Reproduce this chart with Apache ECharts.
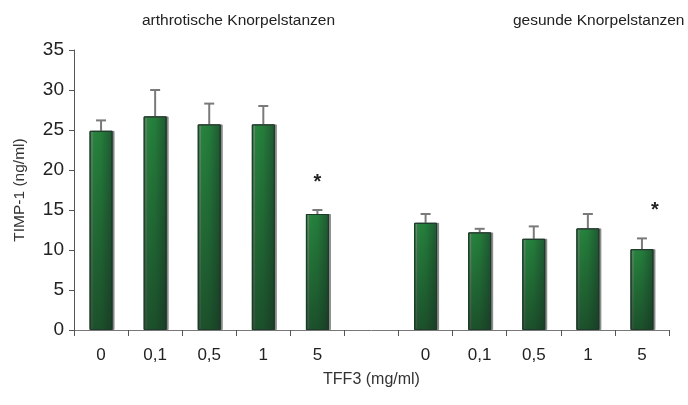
<!DOCTYPE html>
<html>
<head>
<meta charset="utf-8">
<script src="https://cdn.jsdelivr.net/npm/echarts@6/dist/echarts.min.js"></script>
<style>
  html, body { margin: 0; padding: 0; background: #fff; }
  #chart { width: 688px; height: 405px; }
</style>
</head>
<body>
<div id="chart"></div>
<script>
// TFF3 concentrations; the empty slot separates the two tissue groups
const categories = ['0', '0,1', '0,5', '1', '5', '', '0', '0,1', '0,5', '1', '5'];

// TIMP-1 means (ng/ml) and standard deviations
const arthroticMean = [24.9, 26.7, 25.7, 25.7, 14.5];
const arthroticSD   = [1.3, 3.3, 2.6, 2.3, 0.5];
const healthyMean   = [13.4, 12.2, 11.4, 12.7, 10.1];
const healthySD     = [1.1, 0.45, 1.55, 1.8, 1.35];

// groups flagged as significant
const significant = [4, 10];

const groupTitles = ['arthrotische Knorpelstanzen', 'gesunde Knorpelstanzen'];
const yTicks = [0, 5, 10, 15, 20, 25, 30, 35];

const means = [...arthroticMean, null, ...healthyMean];
const sds = [...arthroticSD, null, ...healthySD];

const barData = means.map(v => (v === null ? '-' : v));
const errData = means
  .map((v, i) => (v === null ? null : [i, v, v + sds[i]]))
  .filter(Boolean);
const starData = significant.map(i => [i, means[i] + sds[i]]);

const font = 'Liberation Sans, Arial, Helvetica, sans-serif';

const chart = echarts.init(document.getElementById('chart'), null, { renderer: 'canvas' });

chart.setOption({
  animation: false,
  backgroundColor: '#ffffff',
  title: [
    { text: groupTitles[0], left: 137, top: 8,
      textStyle: { fontFamily: font, fontSize: 15.5, fontWeight: 'normal', color: '#222' } },
    { text: groupTitles[1], left: 508, top: 8,
      textStyle: { fontFamily: font, fontSize: 15.5, fontWeight: 'normal', color: '#222' } }
  ],
  grid: { left: 74, right: 19, top: 50, bottom: 75, containLabel: false },
  xAxis: {
    type: 'category',
    data: categories,
    name: 'TFF3 (mg/ml)',
    nameLocation: 'middle',
    nameGap: 42,
    nameTextStyle: { fontFamily: font, fontSize: 16, color: '#333' },
    axisLine: { lineStyle: { color: '#777', width: 1 } },
    axisTick: { show: true, length: 6, lineStyle: { color: '#555' } },
    axisLabel: { fontFamily: font, fontSize: 17, color: '#222', margin: 17 }
  },
  yAxis: {
    type: 'value',
    min: yTicks[0],
    max: yTicks[yTicks.length - 1],
    interval: 5,
    name: 'TIMP-1 (ng/ml)',
    nameLocation: 'middle',
    nameGap: 46,
    nameTextStyle: { fontFamily: font, fontSize: 15.5, color: '#333' },
    splitLine: { show: false },
    axisLine: { show: true, lineStyle: { color: '#555', width: 1 } },
    axisTick: { show: true, length: 5, lineStyle: { color: '#555' } },
    axisLabel: { fontFamily: font, fontSize: 19, color: '#222', margin: 10 }
  },
  series: [
    {
      type: 'bar',
      data: barData,
      barWidth: 23,
      itemStyle: {
        color: new echarts.graphic.LinearGradient(0, 0, 1, 0, [
          { offset: 0, color: '#28893f' },
          { offset: 0.5, color: '#247d3b' },
          { offset: 1, color: '#1f5832' }
        ]),
        borderColor: '#1d3b28',
        borderWidth: 1,
        shadowColor: 'rgba(130,130,130,0.9)',
        shadowOffsetX: 2,
        shadowOffsetY: 0,
        shadowBlur: 0
      },
      z: 2
    },
    {
      // darkening towards the base of each bar
      type: 'bar',
      data: barData,
      barWidth: 23,
      barGap: '-100%',
      silent: true,
      itemStyle: {
        color: new echarts.graphic.LinearGradient(0, 0, 0, 1, [
          { offset: 0, color: 'rgba(20,40,28,0)' },
          { offset: 1, color: 'rgba(20,40,28,0.55)' }
        ]),
        borderColor: '#1d3b28',
        borderWidth: 1
      },
      z: 2
    },
    {
      type: 'custom',
      data: errData,
      z: 1,
      renderItem: function (params, api) {
        const x = api.value(0);
        const base = api.coord([x, api.value(1)]);
        const top = api.coord([x, api.value(2)]);
        const cap = 5;
        const style = { stroke: '#7a7a7a', lineWidth: 2 };
        return {
          type: 'group',
          children: [
            { type: 'line', shape: { x1: base[0], y1: base[1], x2: top[0], y2: top[1] }, style },
            { type: 'line', shape: { x1: top[0] - cap, y1: top[1], x2: top[0] + cap, y2: top[1] }, style }
          ]
        };
      }
    },
    {
      type: 'custom',
      data: starData,
      z: 3,
      renderItem: function (params, api) {
        const p = api.coord([api.value(0), api.value(1)]);
        const dx = params.dataIndex === 1 ? 13 : 0;
        return {
          type: 'text',
          x: p[0] + dx,
          y: p[1] - 28,
          style: {
            text: '*',
            fontFamily: font,
            fontSize: 20,
            fontWeight: 'bold',
            fill: '#222',
            align: 'center',
            verticalAlign: 'middle'
          }
        };
      }
    }
  ]
});
</script>
</body>
</html>
